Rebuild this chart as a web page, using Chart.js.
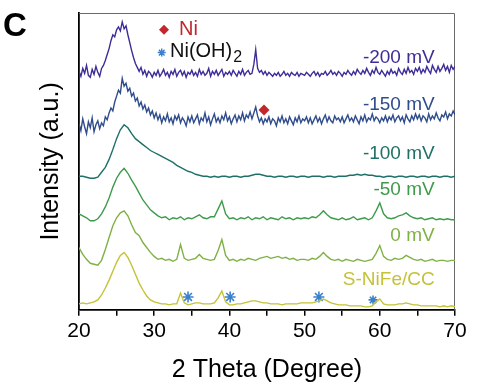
<!DOCTYPE html>
<html>
<head>
<meta charset="utf-8">
<script src="https://cdn.jsdelivr.net/npm/chart.js@4/dist/chart.umd.min.js"></script>
<style>
  html, body { margin: 0; padding: 0; background: #fff; }
  #wrap { width: 478px; height: 385px; }
</style>
</head>
<body>
<div id="wrap"><canvas id="xrd" width="478" height="385"></canvas></div>
<script>
// 2 theta grid (degree), coarse scans
const angles = [
  20, 20.5, 21, 21.5, 22, 22.5, 23, 23.5, 24, 24.5,
  25, 25.5, 26, 26.5, 27, 27.5, 28, 28.5, 29, 29.5,
  30, 30.5, 31, 31.5, 32, 32.5, 33, 33.5, 34, 34.5,
  35, 35.5, 36, 36.5, 37, 37.5, 38, 38.5, 39, 39.5,
  40, 40.5, 41, 41.5, 42, 42.5, 43, 43.5, 44, 44.5,
  45, 45.5, 46, 46.5, 47, 47.5, 48, 48.5, 49, 49.5,
  50, 50.5, 51, 51.5, 52, 52.5, 53, 53.5, 54, 54.5,
  55, 55.5, 56, 56.5, 57, 57.5, 58, 58.5, 59, 59.5,
  60, 60.5, 61, 61.5, 62, 62.5, 63, 63.5, 64, 64.5,
  65, 65.5, 66, 66.5, 67, 67.5, 68, 68.5, 69, 69.5,
  70
];
// fine grid for the two noisy scans
const anglesFine = [
  20, 20.25, 20.5, 20.75, 21, 21.25, 21.5, 21.75, 22, 22.25, 22.5, 22.75, 23, 23.25, 23.5, 23.75, 24, 24.25, 24.5, 24.75,
  25, 25.25, 25.5, 25.75, 26, 26.25, 26.5, 26.75, 27, 27.25, 27.5, 27.75, 28, 28.25, 28.5, 28.75, 29, 29.25, 29.5, 29.75,
  30, 30.25, 30.5, 30.75, 31, 31.25, 31.5, 31.75, 32, 32.25, 32.5, 32.75, 33, 33.25, 33.5, 33.75, 34, 34.25, 34.5, 34.75,
  35, 35.25, 35.5, 35.75, 36, 36.25, 36.5, 36.75, 37, 37.25, 37.5, 37.75, 38, 38.25, 38.5, 38.75, 39, 39.25, 39.5, 39.75,
  40, 40.25, 40.5, 40.75, 41, 41.25, 41.5, 41.75, 42, 42.25, 42.5, 42.75, 43, 43.25, 43.5, 43.75, 44, 44.25, 44.5, 44.75,
  45, 45.25, 45.5, 45.75, 46, 46.25, 46.5, 46.75, 47, 47.25, 47.5, 47.75, 48, 48.25, 48.5, 48.75, 49, 49.25, 49.5, 49.75,
  50, 50.25, 50.5, 50.75, 51, 51.25, 51.5, 51.75, 52, 52.25, 52.5, 52.75, 53, 53.25, 53.5, 53.75, 54, 54.25, 54.5, 54.75,
  55, 55.25, 55.5, 55.75, 56, 56.25, 56.5, 56.75, 57, 57.25, 57.5, 57.75, 58, 58.25, 58.5, 58.75, 59, 59.25, 59.5, 59.75,
  60, 60.25, 60.5, 60.75, 61, 61.25, 61.5, 61.75, 62, 62.25, 62.5, 62.75, 63, 63.25, 63.5, 63.75, 64, 64.25, 64.5, 64.75,
  65, 65.25, 65.5, 65.75, 66, 66.25, 66.5, 66.75, 67, 67.25, 67.5, 67.75, 68, 68.25, 68.5, 68.75, 69, 69.25, 69.5, 69.75,
  70
];

// intensities, already stacked with offsets (a.u.)
const sNiFe = [
  6, 7, 6, 7, 8, 10, 15, 22, 30, 39,
  48, 55, 58, 53, 45, 36, 27, 20, 14, 10,
  8, 7, 6, 6, 5, 6, 6, 17, 7, 5,
  6, 7, 7, 6, 6, 6, 7, 12, 19, 8,
  5, 5, 6, 6, 7, 8, 9, 9, 8, 7,
  7, 6, 6, 6, 5, 6, 6, 6, 6, 7,
  7, 7, 7, 8, 9, 11, 9, 7, 6, 5,
  5, 5, 4, 4, 4, 4, 3, 3, 4, 8,
  11, 6, 5, 5, 5, 6, 6, 7, 6, 5,
  5, 4, 4, 4, 4, 4, 3, 4, 3, 4,
  3
];
const mv0 = [
  63, 56, 51, 47, 46, 45, 50, 61, 73, 85,
  93, 98, 100, 95, 86, 78, 75, 68, 63, 58,
  54, 51, 52, 50, 51, 49, 51, 66, 52, 50,
  51, 52, 56, 52, 51, 50, 51, 60, 71, 55,
  50, 51, 49, 51, 50, 52, 51, 50, 52, 53,
  54, 52, 53, 54, 52, 53, 51, 52, 50, 51,
  51, 50, 52, 51, 54, 58, 54, 51, 50, 51,
  49, 51, 50, 49, 51, 50, 49, 50, 51, 57,
  65, 54, 51, 50, 52, 51, 52, 55, 53, 51,
  50, 51, 49, 50, 51, 49, 50, 50, 49, 50,
  50
];
const mv50 = [
  97, 95, 93, 90, 90, 92, 97, 104, 113, 124,
  133, 139, 143, 138, 131, 125, 118, 111, 106, 101,
  98, 95, 93, 94, 91, 93, 92, 94, 91, 93,
  92, 94, 96, 93, 92, 94, 94, 102, 110, 97,
  92, 93, 91, 93, 92, 94, 91, 93, 92, 94,
  91, 93, 92, 91, 94, 92, 93, 91, 93, 92,
  93, 92, 94, 93, 96, 100, 96, 93, 92, 91,
  93, 91, 92, 94, 91, 92, 93, 91, 93, 100,
  108, 97, 93, 92, 93, 95, 96, 98, 95, 93,
  92, 93, 91, 92, 93, 91, 92, 91, 92, 91,
  91
];
const mv100 = [
  135, 135, 134, 133, 133, 134, 139, 144, 152, 162,
  173, 182, 187, 184, 178, 173, 170, 167, 164, 161,
  159, 157, 155, 153, 151, 149, 146, 144, 142, 140,
  139, 137, 136, 135, 135, 134, 135, 134, 135, 135,
  134, 135, 135, 134, 135, 135, 136, 137, 137, 136,
  135, 135, 134, 135, 135, 134, 135, 135, 134, 135,
  135, 134, 135, 135, 135, 134, 135, 135, 134, 135,
  135, 135, 136, 136, 137, 136, 137, 136, 136, 135,
  135, 134, 135, 135, 134, 135, 135, 134, 135, 135,
  134, 135, 135, 134, 135, 135, 134, 135, 135, 134,
  135
];
const mv150 = [
  188, 181, 193, 185, 178, 190, 184, 194, 180, 187, 191, 183, 189, 186, 195, 192, 199, 204, 201, 210,
  216, 222, 219, 234, 226, 229, 221, 224, 216, 219, 211, 214, 206, 210, 203, 207, 200, 204, 197, 201,
  194, 199, 192, 197, 189, 195, 191, 198, 190, 194, 188, 196, 192, 197, 189, 194, 191, 186, 195, 190,
  196, 189, 193, 197, 188, 194, 191, 199, 190, 195, 187, 193, 198, 190, 194, 189, 196, 192, 199, 191,
  195, 188, 193, 197, 190, 196, 192, 199, 191, 197, 194, 200, 193, 199, 205, 196, 190, 194, 188, 193,
  190, 195, 188, 193, 191, 186, 194, 190, 196, 189, 193, 188, 195, 191, 187, 194, 190, 196, 189, 193,
  191, 195, 189, 194, 188, 192, 196, 190, 194, 188, 193, 197, 190, 195, 191, 189, 196, 192, 194, 190,
  195, 189, 193, 197, 191, 194, 190, 196, 192, 188, 195, 191, 197, 190, 194, 192, 198, 191, 195, 193,
  189, 194, 191, 196, 190, 195, 192, 197, 190, 194, 196, 191, 195, 189, 197, 193, 190, 196, 192, 198,
  193, 197, 191, 196, 194, 190, 198, 192, 196, 193, 199, 194, 191, 197, 195, 200, 193, 198, 196, 201,
  197
];
const mv200 = [
  241, 236, 244, 239, 247, 237, 235, 243, 238, 246, 240, 236, 244, 247, 252, 258, 264, 272, 278, 276,
  283, 286, 282, 291, 284, 287, 278, 270, 262, 255, 249, 245, 241, 245, 238, 242, 236, 241, 239, 235,
  240, 237, 242, 236, 239, 243, 237, 240, 235, 241, 238, 243, 236, 240, 242, 237, 241, 235, 240, 238,
  242, 237, 240, 236, 243, 238, 241, 237, 239, 244, 236, 241, 238, 242, 237, 240, 243, 236, 240, 238,
  241, 237, 242, 239, 236, 241, 238, 243, 237, 240, 242, 238, 239, 248, 263, 244, 240, 242, 238, 241,
  237, 240, 238, 236, 239, 237, 240, 236, 238, 241, 237, 239, 236, 240, 238, 237, 240, 236, 239, 238,
  237, 240, 238, 236, 239, 241, 237, 240, 236, 239, 238, 241, 237, 239, 242, 238, 240, 237, 241, 239,
  236, 240, 238, 242, 239, 237, 241, 238, 243, 240, 238, 242, 239, 244, 240, 237, 242, 239, 245, 240,
  238, 242, 239, 236, 241, 238, 243, 239, 241, 237, 244, 240, 238, 243, 239, 245, 240, 242, 238, 244,
  241, 245, 239, 243, 240, 246, 242, 239, 247, 243, 240, 246, 241, 244, 248, 242, 246, 240, 247, 243,
  246
];

const seriesNames = ['S-NiFe/CC', '0 mV', '-50 mV', '-100 mV', '-150 mV', '-200 mV'];
const seriesValues = [sNiFe, mv0, mv50, mv100, mv150, mv200];
const seriesAngles = [angles, angles, angles, angles, anglesFine, anglesFine];
const seriesColors = ['#c4c236', '#7fb145', '#3f9b4c', '#1f7067', '#2f4c8c', '#3d2d98'];
// where each curve's name sits (angle, height)
const nameAngle = 67.3;
const nameHeight = [30, 75, 121, 158, 207, 255];

// Ni(OH)2 reflections on S-NiFe/CC, Ni reflection on -150 mV
const ohMarkAngles = [34.5, 40.1, 51.9, 59.1];
const ohMarkHeights = [13, 13, 13, 10];
const niMarkAngles = [44.6];
const niMarkHeights = [202];

const niColor = '#c1272d';
const ohColor = '#3a80cc';

function toPoints(xs, ys) {
    return xs.map((x, i) => ({x: x, y: ys[i]}));
}

const datasets = seriesValues.map((vals, i) => ({
    label: seriesNames[i],
    data: toPoints(seriesAngles[i], vals),
    showLine: true,
    borderColor: seriesColors[i],
    borderWidth: 1.4,
    pointRadius: 0,
    tension: 0,
    fill: false
}));

datasets.push({
    label: 'ohMarks',
    data: toPoints(ohMarkAngles, ohMarkHeights),
    showLine: false,
    pointStyle: 'star',
    pointRadius: [5.5, 5.5, 5.5, 4.5],
    borderColor: ohColor,
    borderWidth: 1.6
});
datasets.push({
    label: 'niMarks',
    data: toPoints(niMarkAngles, niMarkHeights),
    showLine: false,
    pointStyle: 'rectRot',
    pointRadius: 5.5,
    backgroundColor: niColor,
    borderColor: niColor,
    borderWidth: 0
});
// legend symbols
datasets.push({
    label: 'legendNi',
    data: [{x: 31.3, y: 283}],
    showLine: false,
    pointStyle: 'rectRot',
    pointRadius: 5,
    backgroundColor: niColor,
    borderColor: niColor,
    borderWidth: 0
});
datasets.push({
    label: 'legendOH',
    data: [{x: 31.0, y: 260}],
    showLine: false,
    pointStyle: 'star',
    pointRadius: 4,
    borderColor: ohColor,
    borderWidth: 1.4
});

const textPlugin = {
    id: 'xrdText',
    beforeDatasetsDraw(chart) {
        const {ctx, chartArea: a} = chart;
        ctx.save();
        ctx.strokeStyle = '#6a6a6a';
        ctx.lineWidth = 1;
        ctx.beginPath();
        ctx.moveTo(a.left, a.top + 0.5);
        ctx.lineTo(a.right - 0.5, a.top + 0.5);
        ctx.lineTo(a.right - 0.5, a.bottom);
        ctx.stroke();
        ctx.restore();
    },
    afterDatasetsDraw(chart) {
        const {ctx} = chart;
        const xs = chart.scales.x;
        const ys = chart.scales.y;
        ctx.save();
        ctx.textBaseline = 'middle';
        ctx.font = '19px "Liberation Sans", Arial, sans-serif';
        ctx.textAlign = 'right';
        seriesNames.forEach((name, i) => {
            ctx.fillStyle = seriesColors[i];
            ctx.fillText(name, xs.getPixelForValue(nameAngle), ys.getPixelForValue(nameHeight[i]));
        });
        // legend text
        ctx.textAlign = 'left';
        ctx.fillStyle = niColor;
        ctx.font = '20px "Liberation Sans", Arial, sans-serif';
        ctx.fillText('Ni', xs.getPixelForValue(33.3), ys.getPixelForValue(283));
        ctx.fillStyle = '#111';
        ctx.font = '20px "Liberation Sans", Arial, sans-serif';
        const ohX = xs.getPixelForValue(32.1);
        const ohY = ys.getPixelForValue(261);
        ctx.fillText('Ni(OH)', ohX, ohY);
        const w = ctx.measureText('Ni(OH)').width;
        ctx.font = '16px "Liberation Sans", Arial, sans-serif';
        ctx.fillText('2', ohX + w + 1, ohY + 6);
        // panel letter
        ctx.fillStyle = '#000';
        ctx.font = 'bold 33px "Liberation Sans", Arial, sans-serif';
        ctx.textBaseline = 'alphabetic';
        ctx.fillText('C', 3, 36);
        ctx.restore();
    }
};

new Chart(document.getElementById('xrd'), {
    type: 'scatter',
    data: {datasets: datasets},
    options: {
        responsive: false,
        animation: false,
        devicePixelRatio: 1,
        layout: {padding: {left: 0, top: 13, right: 23, bottom: 0}},
        plugins: {
            legend: {display: false},
            tooltip: {enabled: false}
        },
        scales: {
            x: {
                type: 'linear',
                min: 20,
                max: 70,
                ticks: {
                    stepSize: 5,
                    color: '#000',
                    padding: 3,
                    font: {family: '"Liberation Sans", Arial, sans-serif', size: 21},
                    callback: (v) => (v % 10 === 0 ? String(v) : '')
                },
                grid: {
                    drawOnChartArea: false,
                    drawTicks: true,
                    tickLength: 6,
                    color: '#000',
                    lineWidth: 1.5
                },
                border: {display: true, color: '#000', width: 1.8},
                title: {
                    display: true,
                    text: '2 Theta (Degree)',
                    color: '#000',
                    font: {family: '"Liberation Sans", Arial, sans-serif', size: 25},
                    padding: {top: 8, bottom: 0}
                }
            },
            y: {
                type: 'linear',
                min: 0,
                max: 300,
                ticks: {display: false},
                grid: {display: false, drawTicks: false},
                border: {display: true, color: '#000', width: 1.8},
                title: {
                    display: true,
                    text: 'Intensity (a.u.)',
                    color: '#000',
                    font: {family: '"Liberation Sans", Arial, sans-serif', size: 25},
                    padding: {top: 36, bottom: 13}
                }
            }
        }
    },
    plugins: [textPlugin]
});
</script>
</body>
</html>
